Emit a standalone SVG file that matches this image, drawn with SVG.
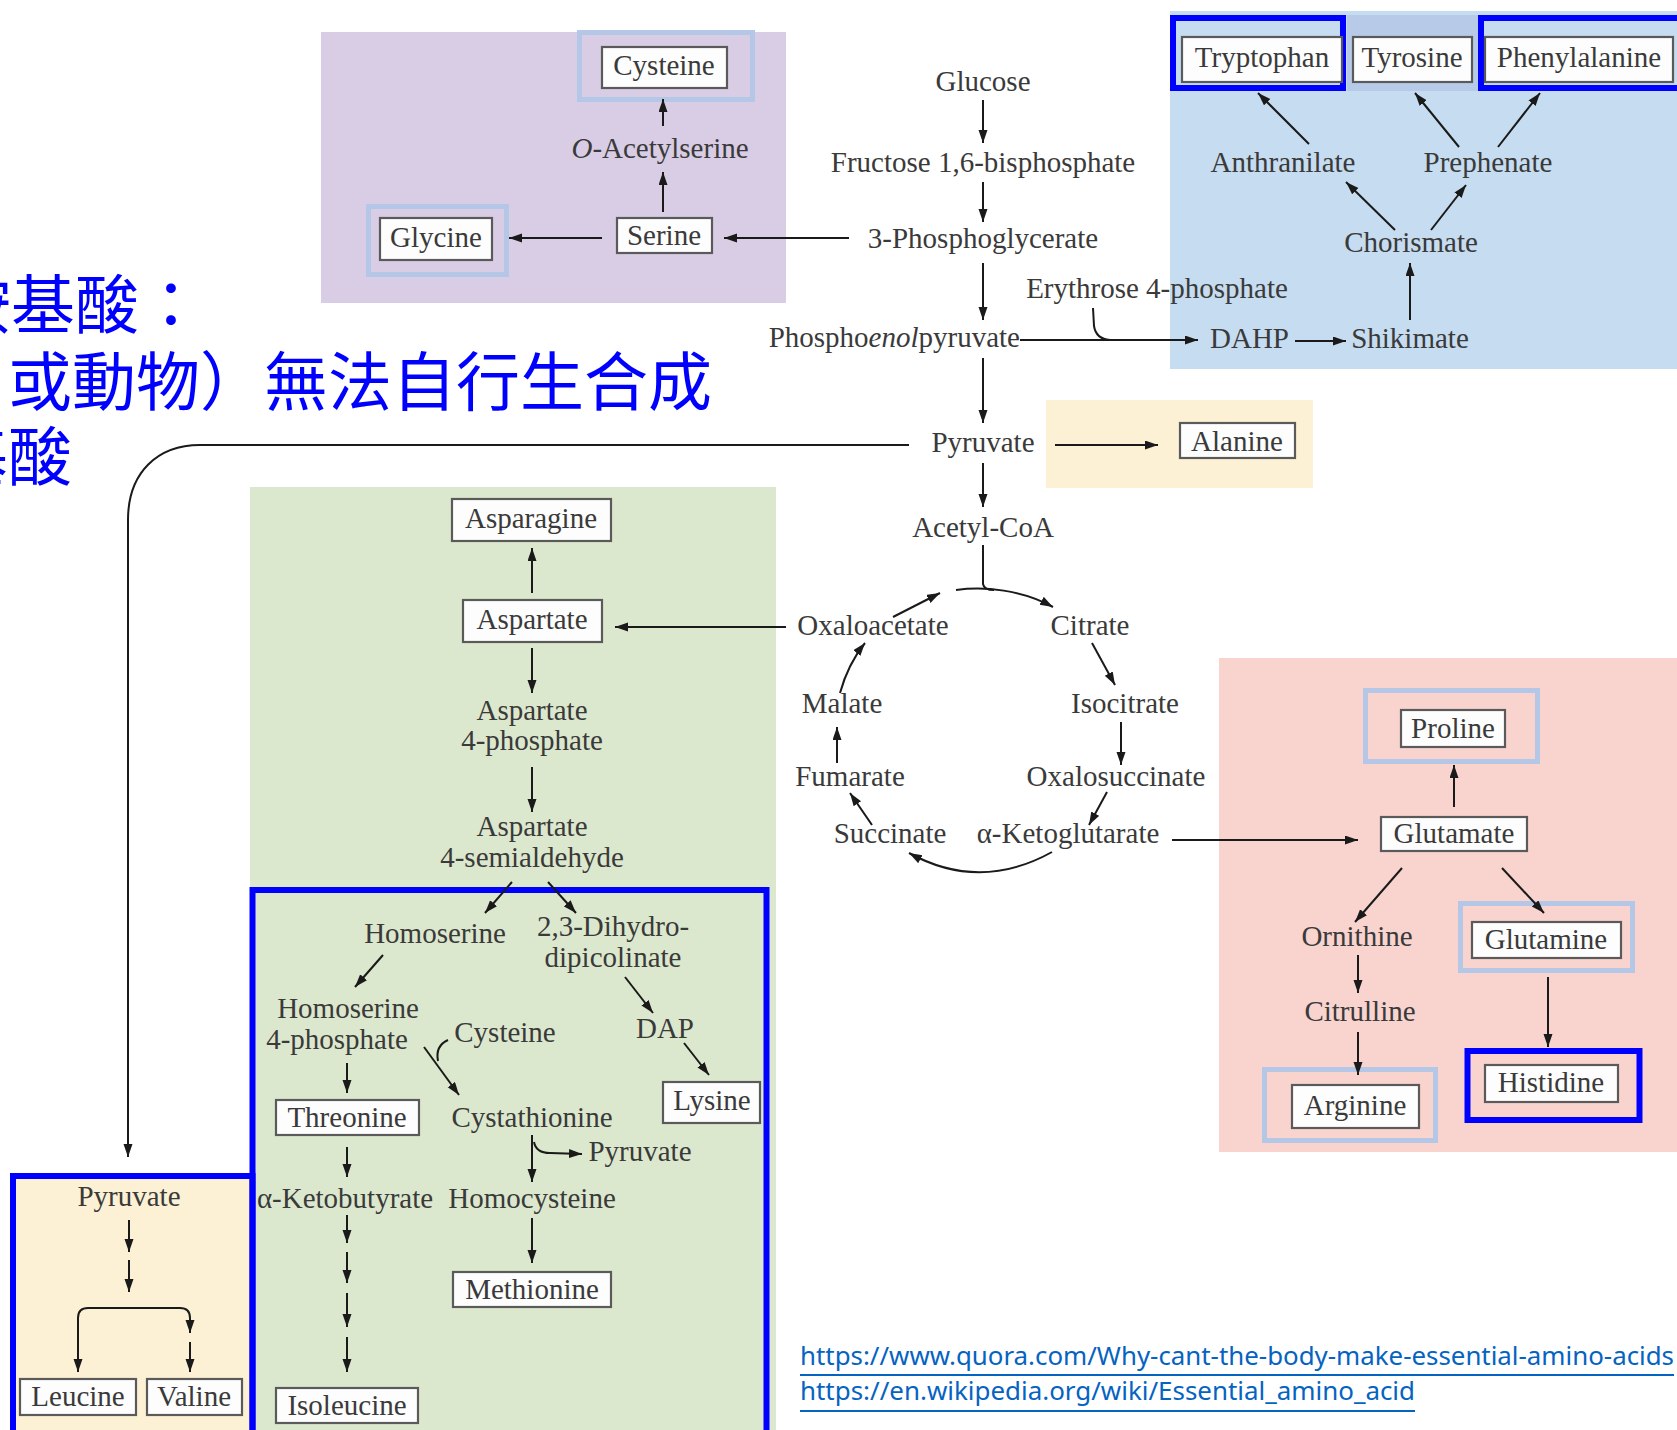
<svg xmlns="http://www.w3.org/2000/svg" width="1677" height="1430" viewBox="0 0 1677 1430">
<defs>
<marker id="ah" markerUnits="userSpaceOnUse" markerWidth="14" markerHeight="10" refX="13" refY="4.5" orient="auto">
<path d="M0,0 L13,4.5 L0,9 z" fill="#1a1a1a"/>
</marker>
</defs>
<style>
.t{font-family:"Liberation Serif","DejaVu Serif",serif;font-size:29px;fill:#3a3a3a;text-anchor:middle}
.t.end{text-anchor:end}
.t.start{text-anchor:start}
.box{fill:#fdfdfd;stroke:#5a5a5a;stroke-width:2.2}
.hl{fill:none;stroke:#b4c7e7;stroke-width:5}
.hd{fill:none;stroke:#0000ff;stroke-width:6}
.ln{fill:none;stroke:#1a1a1a;stroke-width:2}
.a{fill:none;stroke:#1a1a1a;stroke-width:2;marker-end:url(#ah)}
.cjk{font-family:"Noto Sans CJK TC","Noto Sans CJK SC",sans-serif;font-size:64px;fill:#0000ff}
.url{font-family:"Noto Sans","Liberation Sans",sans-serif;font-size:25px;fill:#0563c1}
</style>
<rect width="1677" height="1430" fill="#ffffff"/>

<g id="regions">
<rect x="321" y="32" width="465" height="271" fill="#d9cde5"/>
<rect x="1170" y="11" width="507" height="358" fill="#c6dcf0"/>
<rect x="1046" y="400" width="267" height="88" fill="#fcf1d4"/>
<rect x="250" y="487" width="526" height="943" fill="#dce8cd"/>
<rect x="1219" y="658" width="458" height="494" fill="#f9d4cf"/>
<rect x="10" y="1173" width="242" height="257" fill="#fcf1d4"/>
<rect x="1347" y="15" width="131" height="76" fill="#b7cbe8"/>
</g>

<g id="title">
<text class="cjk" x="-53" y="328">胺基酸：</text>
<text class="cjk" x="8" y="405">或動物）無法自行生合成</text>
<text class="cjk" x="-56" y="480">基酸</text>
</g>

<g id="frames">
<rect class="hd" x="252.5" y="890" width="514" height="560"/>
<rect class="hd" x="13" y="1176" width="239.5" height="270"/>
<rect class="hd" x="1173" y="18" width="170" height="70"/>
<rect class="hd" x="1481" y="18" width="220" height="70"/>
<rect class="hl" x="579.5" y="32.5" width="173" height="67"/>
<rect class="hl" x="368.5" y="206.5" width="138" height="68"/>
<rect class="hl" x="1365.5" y="690.5" width="172" height="71"/>
<rect class="hl" x="1460.5" y="903.5" width="172" height="67"/>
<rect class="hl" x="1264.5" y="1069.5" width="171" height="71"/>
<rect class="hd" x="1467.5" y="1051" width="172" height="69"/>
</g>

<g id="n-cysteine"><rect class="box" x="602" y="47" width="125" height="41"/><text class="t" x="664" y="75">Cysteine</text></g>
<g id="n-oacetylserine"><text class="t" x="660" y="158"><tspan font-style="italic">O</tspan>-Acetylserine</text></g>
<g id="n-glycine"><rect class="box" x="380" y="218" width="112" height="42"/><text class="t" x="436" y="247">Glycine</text></g>
<g id="n-serine"><rect class="box" x="617" y="218" width="95" height="35"/><text class="t" x="664" y="245">Serine</text></g>

<g id="n-glucose"><text class="t" x="983" y="91">Glucose</text></g>
<g id="n-fructose"><text class="t" x="983" y="172">Fructose 1,6-bisphosphate</text></g>
<g id="n-3pg"><text class="t" x="983" y="248">3-Phosphoglycerate</text></g>
<g id="n-e4p"><text class="t" x="1157" y="298">Erythrose 4-phosphate</text></g>
<g id="n-pep"><text class="t end" x="1020" y="347">Phospho<tspan font-style="italic">enol</tspan>pyruvate</text></g>
<g id="n-dahp"><text class="t start" x="1210" y="348">DAHP</text></g>
<g id="n-shikimate"><text class="t" x="1410" y="348">Shikimate</text></g>
<g id="n-chorismate"><text class="t" x="1411" y="252">Chorismate</text></g>
<g id="n-anthranilate"><text class="t" x="1283" y="172">Anthranilate</text></g>
<g id="n-prephenate"><text class="t" x="1488" y="172">Prephenate</text></g>
<g id="n-tryptophan"><rect class="box" x="1182" y="37" width="160" height="45"/><text class="t" x="1262" y="67">Tryptophan</text></g>
<g id="n-tyrosine"><rect class="box" x="1353" y="37" width="119" height="45"/><text class="t" x="1412" y="67">Tyrosine</text></g>
<g id="n-phenylalanine"><rect class="box" x="1485" y="37" width="188" height="45"/><text class="t" x="1579" y="67">Phenylalanine</text></g>

<g id="n-pyruvate"><text class="t" x="983" y="452">Pyruvate</text></g>
<g id="n-alanine"><rect class="box" x="1180" y="423" width="115" height="35"/><text class="t" x="1237" y="451">Alanine</text></g>
<g id="n-acetylcoa"><text class="t" x="983" y="537">Acetyl-CoA</text></g>

<g id="n-oxaloacetate"><text class="t" x="873" y="635">Oxaloacetate</text></g>
<g id="n-citrate"><text class="t" x="1090" y="635">Citrate</text></g>
<g id="n-malate"><text class="t" x="842" y="713">Malate</text></g>
<g id="n-isocitrate"><text class="t" x="1125" y="713">Isocitrate</text></g>
<g id="n-fumarate"><text class="t" x="850" y="786">Fumarate</text></g>
<g id="n-oxalosuccinate"><text class="t" x="1116" y="786">Oxalosuccinate</text></g>
<g id="n-succinate"><text class="t" x="890" y="843">Succinate</text></g>
<g id="n-akg"><text class="t" x="1068" y="843">α-Ketoglutarate</text></g>

<g id="n-proline"><rect class="box" x="1401" y="710" width="104" height="37"/><text class="t" x="1453" y="738">Proline</text></g>
<g id="n-glutamate"><rect class="box" x="1381" y="817" width="146" height="34"/><text class="t" x="1454" y="843">Glutamate</text></g>
<g id="n-ornithine"><text class="t" x="1357" y="946">Ornithine</text></g>
<g id="n-glutamine"><rect class="box" x="1472" y="922" width="149" height="36"/><text class="t" x="1546" y="949">Glutamine</text></g>
<g id="n-citrulline"><text class="t" x="1360" y="1021">Citrulline</text></g>
<g id="n-arginine"><rect class="box" x="1292" y="1085" width="127" height="43"/><text class="t" x="1355" y="1115">Arginine</text></g>
<g id="n-histidine"><rect class="box" x="1485" y="1065" width="133" height="37"/><text class="t" x="1551" y="1092">Histidine</text></g>

<g id="n-asparagine"><rect class="box" x="452" y="499" width="159" height="42"/><text class="t" x="531" y="528">Asparagine</text></g>
<g id="n-aspartate"><rect class="box" x="463" y="600" width="139" height="42"/><text class="t" x="532" y="629">Aspartate</text></g>
<g id="n-asp4p"><text class="t" x="532" y="720">Aspartate</text><text class="t" x="532" y="750">4-phosphate</text></g>
<g id="n-aspsemi"><text class="t" x="532" y="836">Aspartate</text><text class="t" x="532" y="867">4-semialdehyde</text></g>
<g id="n-homoserine"><text class="t" x="435" y="943">Homoserine</text></g>
<g id="n-dihydrodipicolinate"><text class="t" x="613" y="936">2,3-Dihydro-</text><text class="t" x="613" y="967">dipicolinate</text></g>
<g id="n-homoserine4p"><text class="t" x="348" y="1018">Homoserine</text><text class="t" x="337" y="1049">4-phosphate</text></g>
<g id="n-dap"><text class="t" x="665" y="1038">DAP</text></g>
<g id="n-lysine"><rect class="box" x="663" y="1082" width="97" height="41"/><text class="t" x="712" y="1110">Lysine</text></g>
<g id="n-cysteine2"><text class="t" x="505" y="1042">Cysteine</text></g>
<g id="n-threonine"><rect class="box" x="276" y="1100" width="143" height="35"/><text class="t" x="347" y="1127">Threonine</text></g>
<g id="n-cystathionine"><text class="t" x="532" y="1127">Cystathionine</text></g>
<g id="n-pyruvate2"><text class="t" x="640" y="1161">Pyruvate</text></g>
<g id="n-aketobutyrate"><text class="t" x="345" y="1208">α-Ketobutyrate</text></g>
<g id="n-homocysteine"><text class="t" x="532" y="1208">Homocysteine</text></g>
<g id="n-methionine"><rect class="box" x="453" y="1272" width="158" height="35"/><text class="t" x="532" y="1299">Methionine</text></g>
<g id="n-isoleucine"><rect class="box" x="276" y="1388" width="142" height="35"/><text class="t" x="347" y="1415">Isoleucine</text></g>

<g id="n-pyruvate3"><text class="t" x="129" y="1206">Pyruvate</text></g>
<g id="n-leucine"><rect class="box" x="20" y="1379" width="116" height="36"/><text class="t" x="78" y="1406">Leucine</text></g>
<g id="n-valine"><rect class="box" x="147" y="1379" width="95" height="36"/><text class="t" x="194" y="1406">Valine</text></g>

<g id="connectors">
<line class="a" x1="663" y1="212" x2="663" y2="172"/>
<line class="a" x1="663" y1="126" x2="663" y2="99"/>
<line class="a" x1="602" y1="238" x2="509" y2="238"/>
<line class="a" x1="849" y1="238" x2="724" y2="238"/>
<line class="a" x1="983" y1="100" x2="983" y2="143"/>
<line class="a" x1="983" y1="182" x2="983" y2="222"/>
<line class="a" x1="983" y1="263" x2="983" y2="320"/>
<line class="a" x1="1020" y1="340" x2="1198" y2="340"/>
<path class="ln" d="M1093,308 L1094,326 Q1096,339 1110,340"/>
<line class="a" x1="1295" y1="341" x2="1346" y2="341"/>
<line class="a" x1="1410" y1="320" x2="1410" y2="263"/>
<line class="a" x1="1395" y1="230" x2="1346" y2="182"/>
<line class="a" x1="1431" y1="230" x2="1466" y2="185"/>
<line class="a" x1="1309" y1="144" x2="1258" y2="93"/>
<line class="a" x1="1459" y1="147" x2="1415" y2="93"/>
<line class="a" x1="1498" y1="147" x2="1540" y2="93"/>
<line class="a" x1="983" y1="358" x2="983" y2="423"/>
<line class="a" x1="1055" y1="445" x2="1158" y2="445"/>
<line class="a" x1="983" y1="463" x2="983" y2="507"/>
<path class="a" d="M909,445 H200 C158,445 128,472 128,520 V1157"/>
<path class="ln" d="M983,545 V584 Q984,590 994,590"/>
<path class="a" d="M956,590 C985,586 1022,590 1053,607"/>
<line class="a" x1="893" y1="617" x2="940" y2="593"/>
<line class="a" x1="1092" y1="643" x2="1115" y2="685"/>
<line class="a" x1="1121" y1="722" x2="1121" y2="765"/>
<line class="a" x1="1107" y1="792" x2="1089" y2="825"/>
<path class="a" d="M1052,852 Q980,892 909,853"/>
<line class="a" x1="872" y1="825" x2="850" y2="793"/>
<line class="a" x1="837" y1="763" x2="837" y2="727"/>
<path class="a" d="M840,693 Q848,664 865,643"/>
<line class="a" x1="786" y1="627" x2="615" y2="627"/>
<line class="a" x1="1172" y1="840" x2="1358" y2="840"/>
<line class="a" x1="1454" y1="807" x2="1454" y2="765"/>
<line class="a" x1="1402" y1="868" x2="1355" y2="922"/>
<line class="a" x1="1502" y1="868" x2="1544" y2="913"/>
<line class="a" x1="1358" y1="955" x2="1358" y2="993"/>
<line class="a" x1="1358" y1="1032" x2="1358" y2="1075"/>
<line class="a" x1="1548" y1="977" x2="1548" y2="1047"/>
<line class="a" x1="532" y1="593" x2="532" y2="548"/>
<line class="a" x1="532" y1="648" x2="532" y2="693"/>
<line class="a" x1="532" y1="767" x2="532" y2="812"/>
<line class="a" x1="512" y1="882" x2="485" y2="913"/>
<line class="a" x1="548" y1="882" x2="576" y2="913"/>
<line class="a" x1="383" y1="955" x2="355" y2="987"/>
<line class="a" x1="625" y1="977" x2="653" y2="1013"/>
<line class="a" x1="684" y1="1043" x2="709" y2="1075"/>
<line class="a" x1="424" y1="1047" x2="459" y2="1095"/>
<path class="ln" d="M448,1040 Q435,1046 438,1061"/>
<line class="a" x1="347" y1="1063" x2="347" y2="1093"/>
<line class="a" x1="532" y1="1135" x2="532" y2="1182"/>
<path class="a" d="M534,1142 Q536,1153 550,1153 L582,1154"/>
<line class="a" x1="347" y1="1147" x2="347" y2="1177"/>
<line class="a" x1="532" y1="1218" x2="532" y2="1263"/>
<line class="a" x1="347" y1="1215" x2="347" y2="1243"/>
<line class="a" x1="347" y1="1252" x2="347" y2="1283"/>
<line class="a" x1="347" y1="1293" x2="347" y2="1327"/>
<line class="a" x1="347" y1="1337" x2="347" y2="1372"/>
<line class="a" x1="129" y1="1220" x2="129" y2="1252"/>
<line class="a" x1="129" y1="1260" x2="129" y2="1292"/>
<path class="a" d="M134,1308 H88 Q78,1308 78,1318 V1372"/>
<path class="a" d="M134,1308 H180 Q190,1308 190,1318 V1333"/>
<line class="a" x1="190" y1="1342" x2="190" y2="1372"/>
</g>

<g id="links">
<text class="url" x="800" y="1365" textLength="874" lengthAdjust="spacingAndGlyphs">https://www.quora.com/Why-cant-the-body-make-essential-amino-acids</text>
<line x1="800" y1="1375" x2="1674" y2="1375" stroke="#0563c1" stroke-width="2"/>
<text class="url" x="800" y="1400" textLength="615" lengthAdjust="spacingAndGlyphs">https://en.wikipedia.org/wiki/Essential_amino_acid</text>
<line x1="800" y1="1411" x2="1415" y2="1411" stroke="#0563c1" stroke-width="2"/>
</g>
</svg>
